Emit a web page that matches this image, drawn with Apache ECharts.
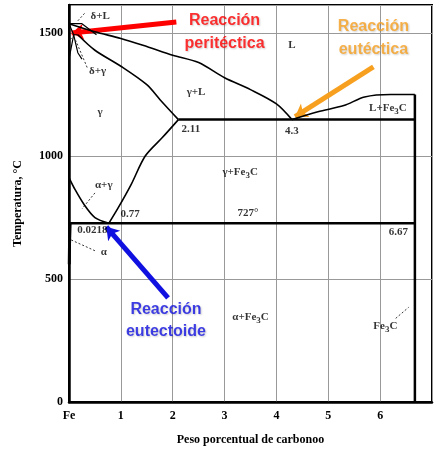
<!DOCTYPE html><html><head><meta charset="utf-8"><script src="https://cdn.jsdelivr.net/npm/echarts@6/dist/echarts.min.js"></script></head><body style="margin:0;background:#fff"><div id="c" style="width:444px;height:454px"></div><script>
const xTicks=['Fe','1','2','3','4','5','6'];
const yTicks=[0,500,1000,1500];
const liquidusLeft=[[0,1538],[0.5,1505],[1,1478],[1.5,1445],[2,1410],[2.5,1380],[3,1318],[3.5,1270],[4,1212],[4.3,1148]];
const liquidusRight=[[4.3,1148],[4.8,1180],[5.3,1205],[5.7,1240],[6.2,1250],[6.67,1250]];
const solidus=[[0.17,1493],[0.5,1430],[1,1365],[1.5,1290],[1.76,1228],[2.11,1148]];
const acm=[[2.11,1148],[1.8,1075],[1.47,1000],[1.2,885],[0.95,790],[0.77,727]];
const a3=[[0,912],[0.1,870],[0.3,800],[0.5,750],[0.77,727]];
const alphaSolvus=[[0.0218,727],[0.01,640],[0.005,560]];
const deltaLines=[[[0,1538],[0.25,1538],[0.53,1493]],[[0.09,1493],[0.17,1493]],[[0,1538],[0.09,1493],[0,1394]],[[0.09,1493],[0.17,1420],[0.25,1394]]];
const eutecticLine=[[2.11,1148],[6.67,1148]];
const eutectoidLine=[[0.0218,727],[6.67,727]];
const cementite=[[6.67,0],[6.67,1250]];
const labels=[[4.3,1450,'L'],[2.45,1260,'γ+L'],[0.6,1180,'γ'],[0.6,1570,'δ+L'],[0.55,1345,'δ+γ'],[-0.55,1350,'δ'],[2.35,1110,'2.11'],[4.3,1100,'4.3'],[6.15,1195,'L+Fe{s|3}C'],[3.3,935,'γ+Fe{s|3}C'],[3.45,768,'727°'],[0.67,883,'α+γ'],[1.18,762,'0.77'],[0.45,700,'0.0218'],[0.67,610,'α'],[6.35,690,'6.67'],[3.5,345,'α+Fe{s|3}C'],[6.1,310,'Fe{s|3}C']];
const callouts=[[3.0,1550,'Reacción','#ff0000'],[3.0,1457,'peritéctica','#ff0000'],[5.87,1525,'Reacción','#f7a020'],[5.87,1432,'eutéctica','#f7a020'],[1.87,375,'Reacción','#1010e0'],[1.87,285,'eutectoide','#1010e0']];
const arrows=[[[2.07,1545],[0.05,1500],'#ff0000'],[[5.87,1362],[4.36,1160],'#f7a020'],[[1.91,423],[0.72,712],'#1010e0']];
const smallLeaders=[[[-0.4,1360],[0.05,1480]],[[0.35,1360],[0.13,1470]],[[0.3,1580],[0.15,1545]],[[0.5,850],[0.25,785]],[[0.5,615],[0.03,660]],[[6.3,340],[6.55,385]]];
const ch=echarts.init(document.getElementById('c'));
const ser=[];
const L=(d,w,sm)=>ser.push({type:'line',data:d,symbol:'none',smooth:sm||0,lineStyle:{color:'#000',width:w},silent:true});
[liquidusLeft,liquidusRight,solidus,acm,a3].forEach(d=>L(d,1.6,0.3));
L(alphaSolvus,3);deltaLines.forEach(d=>L(d,1.2));
L(eutecticLine,2.5);L(eutectoidLine,2.5);L(cementite,2.5);
smallLeaders.forEach(d=>ser.push({type:'line',data:d,symbol:'none',lineStyle:{color:'#000',width:0.8,type:[2,2]}}));
arrows.forEach(a=>ser.push({type:'lines',coordinateSystem:'cartesian2d',symbol:['none','arrow'],symbolSize:12,lineStyle:{color:a[2],width:5,opacity:1},data:[{coords:[a[0],a[1]]}]}));
ser.push({type:'scatter',symbolSize:0,data:labels.map(l=>({value:[l[0],l[1]],label:{formatter:l[2]}})),label:{show:true,position:'inside',color:'#000',fontFamily:'Liberation Serif',fontWeight:'bold',fontSize:11,rich:{s:{fontSize:9,padding:[8,0,0,0],fontFamily:'Liberation Serif',fontWeight:'bold'}}}});
ser.push({type:'scatter',symbolSize:0,data:callouts.map(l=>({value:[l[0],l[1]],label:{formatter:l[2],color:l[3]}})),label:{show:true,position:'inside',fontFamily:'Liberation Sans',fontWeight:'bold',fontSize:16,textShadowColor:'rgba(0,0,0,0.25)',textShadowBlur:2,textShadowOffsetX:1,textShadowOffsetY:1}});
ch.setOption({animation:false,
grid:{left:69,right:12,top:5,bottom:52,show:true,borderColor:'#000',borderWidth:2},
xAxis:{type:'value',min:0,max:7,interval:1,name:'Peso porcentual de carbonoo',nameLocation:'middle',nameGap:32,nameTextStyle:{fontFamily:'Liberation Serif',fontWeight:'bold',fontSize:12,color:'#000'},axisLine:{lineStyle:{color:'#000',width:2.5}},axisTick:{show:false},splitLine:{lineStyle:{color:'#999'}},axisLabel:{color:'#000',fontFamily:'Liberation Serif',fontWeight:'bold',fontSize:12,margin:8,formatter:v=>v<7?xTicks[v]:''}},
yAxis:{type:'value',min:0,max:1614,interval:500,name:'Temperatura, °C',nameLocation:'middle',nameGap:45,nameTextStyle:{fontFamily:'Liberation Serif',fontWeight:'bold',fontSize:12,color:'#000'},axisLine:{lineStyle:{color:'#000',width:2.5}},axisTick:{show:false},splitLine:{lineStyle:{color:'#999'}},axisLabel:{color:'#000',fontFamily:'Liberation Serif',fontWeight:'bold',fontSize:12,margin:6,formatter:v=>yTicks.includes(v)?String(v):''}},
series:ser});
</script></body></html>
